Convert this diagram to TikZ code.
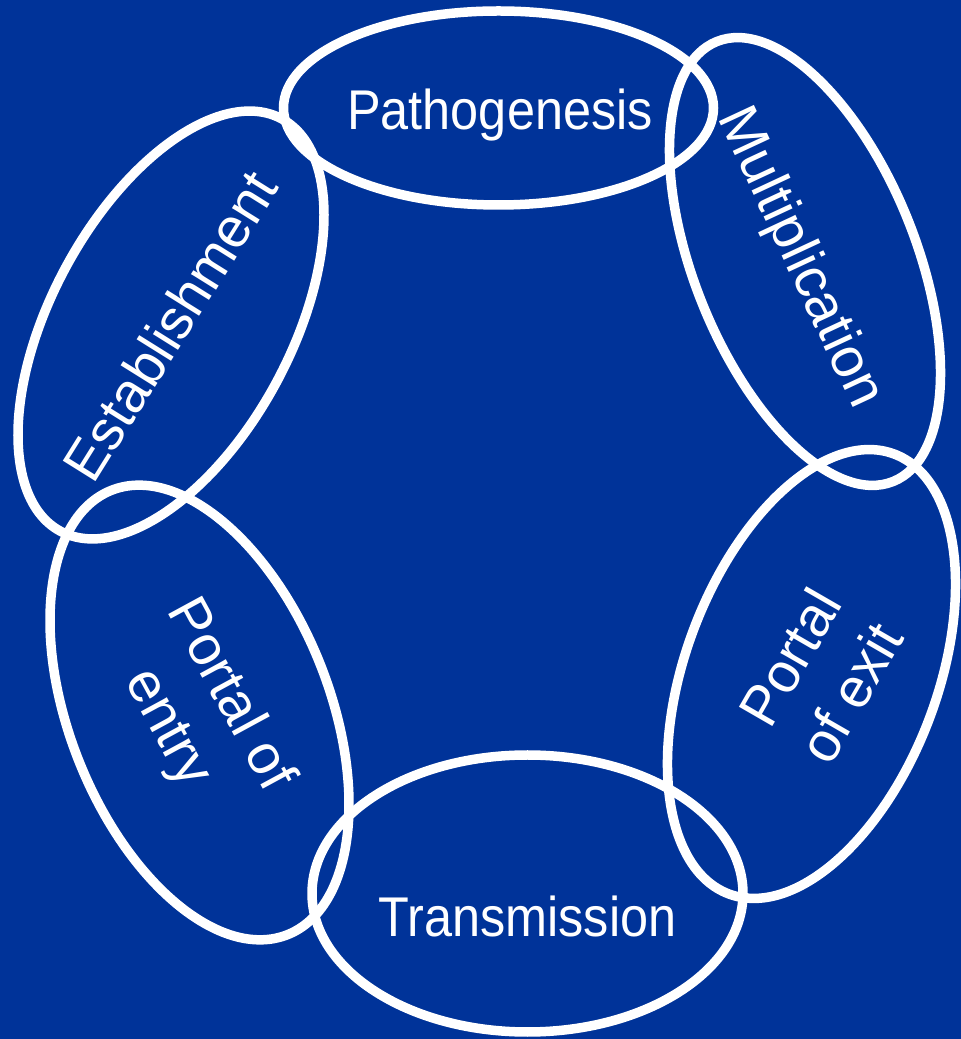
\documentclass[tikz,border=0pt]{standalone}
\usepackage{fontspec}
\setmainfont{Liberation Sans}
\usetikzlibrary{shapes.geometric}
\definecolor{stageblue}{RGB}{0,51,153}
\tikzset{
  ring/.style={ellipse, draw=white, line width=9.5pt, inner sep=0pt},
  stagelabel/.style={text=white, inner sep=0pt, align=center,
    font=\fontsize{56}{70}\selectfont},
  flatlabel/.style={stagelabel, xscale=0.9, transform shape}
}
\begin{document}
\begin{tikzpicture}[x=1pt, y=1pt]
  % background
  \fill[stageblue] (0,0) rectangle (961,1039);
  \useasboundingbox (0,0) rectangle (961,1039);

  % the six stages of the cycle
  \node (pathring)  [ring, minimum width=430pt, minimum height=194pt] at (498.5,931) {};
  \node (multring)  [ring, minimum width=474pt, minimum height=222pt, rotate=-68.2] at (805,777.5) {};
  \node (exitring)  [ring, minimum width=470pt, minimum height=252pt, rotate=69.4] at (811.5,365) {};
  \node (transring) [ring, minimum width=431pt, minimum height=277pt] at (527.5,145.5) {};
  \node (entryring) [ring, minimum width=478pt, minimum height=260pt, rotate=-68.4] at (199.5,326.5) {};
  \node (estring)   [ring, minimum width=468pt, minimum height=240pt, rotate=61.8] at (171,714) {};

  % labels
  \node (pathtext)  [flatlabel, anchor=base] at (500,909) {Pathogenesis};
  \node (transtext) [flatlabel, anchor=base] at (527.5,102) {Transmission};
  \node (multtext)  [stagelabel, rotate=-65] at (799,781) {Multiplication};
  \node (esttext)   [stagelabel, rotate=58] at (170,713) {Establishment};
  \node (exittext)  [stagelabel, rotate=60] at (820,364) {Portal\\of exit};
  \node (entrytext) [stagelabel, rotate=-61.5] at (198,327) {Portal of\\entry};
\end{tikzpicture}
\end{document}
